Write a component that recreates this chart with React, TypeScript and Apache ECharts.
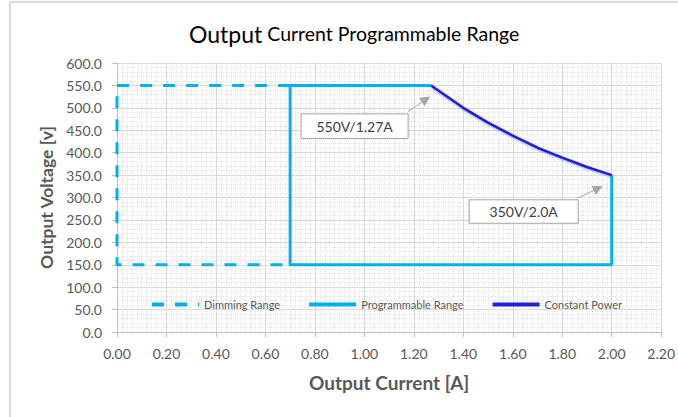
import React, { useEffect, useRef } from "react";
import * as echarts from "echarts";

// ---- data ----
const dimmingCurrent = [0.7, 0, 0, 0.7];
const dimmingVoltage = [550, 550, 150, 150];

const programmableCurrent = [1.27, 0.7, 0.7, 2.0, 2.0];
const programmableVoltage = [550, 550, 150, 150, 350];

const constantPowerCurrent = [1.27, 1.4, 1.5, 1.6, 1.7, 1.8, 1.9, 2.0];
const constantPowerVoltage = [550, 500, 467, 438, 411, 389, 368, 350];

const seriesNames = ["Dimming Range", "Programmable Range", "Constant Power"];

const annotationTexts = ["550V/1.27A", "350V/2.0A"];
const annotationCurrent = [1.27, 2.0];
const annotationVoltage = [550, 350];

const FONT = "Lato, 'Open Sans', sans-serif";
const CYAN = "#00b0f0";
const BLUE = "#1f1fdc";

const zip = (a: number[], b: number[]) => a.map((v, i) => [v, b[i]]);

export default function App() {
  const ref = useRef<HTMLDivElement>(null);

  useEffect(() => {
    if (!ref.current) return;
    const chart = echarts.init(ref.current, undefined, { renderer: "svg" });

    const option: any = {
      animation: false,
      backgroundColor: "#ffffff",
      title: {
        left: 184,
        top: 17,
        text: "{a|Output} {b|Current Programmable Range}",
        textStyle: {
          fontWeight: "normal",
          rich: {
            a: { fontFamily: FONT, fontSize: 23, fontWeight: "normal", color: "#000000" },
            b: { fontFamily: FONT, fontSize: 19.5, fontWeight: "normal", color: "#000000" },
          },
        },
      },
      grid: { left: 117, right: 14, top: 63, bottom: 85, containLabel: false },
      legend: {
        left: 150,
        top: 299,
        itemWidth: 47,
        itemHeight: 10,
        itemGap: 27,
        padding: 0,
        data: seriesNames,
        itemStyle: { opacity: 0 },
        lineStyle: { width: 4 },
        textStyle: { fontFamily: FONT, fontSize: 11, color: "#595959" },
      },
      xAxis: {
        type: "value",
        min: 0,
        max: 2.2,
        interval: 0.2,
        name: "Output Current [A]",
        nameLocation: "middle",
        nameGap: 41,
        nameTextStyle: { fontFamily: FONT, fontSize: 19, fontWeight: "bold", color: "#595959" },
        axisLine: { show: true, lineStyle: { color: "#bfbfbf" } },
        axisTick: { show: true, inside: false, length: 5, lineStyle: { color: "#bfbfbf" } },
        axisLabel: {
          margin: 14,
          fontFamily: FONT,
          fontSize: 14,
          color: "#595959",
          formatter: (v: number) => v.toFixed(2),
        },
        splitLine: { show: true, lineStyle: { color: "#d9d9d9", width: 1 } },
        minorTick: { show: false, splitNumber: 10 },
        minorSplitLine: { show: true, lineStyle: { color: "#e3e3e3", width: 1, type: [1, 1] } },
      },
      yAxis: {
        type: "value",
        min: 0,
        max: 600,
        interval: 50,
        name: "Output Voltage [v]",
        nameLocation: "middle",
        nameGap: 61,
        nameTextStyle: { fontFamily: FONT, fontSize: 17.5, fontWeight: "bold", color: "#595959" },
        axisLine: { show: true, lineStyle: { color: "#bfbfbf" } },
        axisTick: { show: true, inside: false, length: 5, lineStyle: { color: "#bfbfbf" } },
        axisLabel: {
          margin: 15,
          fontFamily: FONT,
          fontSize: 14,
          color: "#595959",
          formatter: (v: number) => v.toFixed(1),
        },
        splitLine: { show: true, lineStyle: { color: "#d9d9d9", width: 1 } },
        minorTick: { show: false, splitNumber: 5 },
        minorSplitLine: { show: true, lineStyle: { color: "#e3e3e3", width: 1, type: [1, 1] } },
      },
      series: [
        {
          name: seriesNames[0],
          type: "line",
          data: zip(dimmingCurrent, dimmingVoltage),
          symbol: "none",
          clip: false,
          itemStyle: { color: CYAN },
          lineStyle: { color: CYAN, width: 3, type: [12, 11] },
        },
        {
          name: seriesNames[1],
          type: "line",
          data: zip(programmableCurrent, programmableVoltage),
          symbol: "none",
          clip: false,
          itemStyle: { color: CYAN },
          lineStyle: { color: CYAN, width: 3 },
        },
        {
          name: seriesNames[2],
          type: "line",
          data: zip(constantPowerCurrent, constantPowerVoltage),
          symbol: "none",
          clip: false,
          z: 3,
          itemStyle: { color: BLUE },
          lineStyle: {
            color: BLUE,
            width: 2.5,
            shadowColor: "rgba(90,90,230,0.6)",
            shadowBlur: 2,
            shadowOffsetY: 1,
          },
        },
      ],
    };
    chart.setOption(option);

    // annotation callouts positioned relative to their data points
    const offsets = [
      { tip: [-1, 11], start: [-23, 26], box: [-130, 28.5, 107, 24.5] },
      { tip: [-9, 11], start: [-34, 23], box: [-142.5, 24.7, 109, 23.5] },
    ];
    const gray = "#a6a6a6";
    const elements: any[] = [
      {
        type: "rect",
        silent: true,
        shape: { x: 10, y: 2, width: 700, height: 440 },
        style: { fill: "none", stroke: "#d9d9d9", lineWidth: 2 },
        z: 100,
      },
    ];
    annotationTexts.forEach((txt, i) => {
      const p = chart.convertToPixel({ gridIndex: 0 }, [annotationCurrent[i], annotationVoltage[i]]) as number[];
      const o = offsets[i];
      const tip = [p[0] + o.tip[0], p[1] + o.tip[1]];
      const st = [p[0] + o.start[0], p[1] + o.start[1]];
      const dx = tip[0] - st[0];
      const dy = tip[1] - st[1];
      const len = Math.hypot(dx, dy);
      const ux = dx / len;
      const uy = dy / len;
      const hl = 10;
      const hw = 5;
      const base = [tip[0] - ux * hl, tip[1] - uy * hl];
      elements.push({
        type: "line",
        silent: true,
        shape: { x1: st[0], y1: st[1], x2: base[0], y2: base[1] },
        style: { stroke: gray, lineWidth: 1 },
        z: 50,
      });
      elements.push({
        type: "polygon",
        silent: true,
        shape: {
          points: [
            tip,
            [base[0] - uy * hw, base[1] + ux * hw],
            [base[0] + uy * hw, base[1] - ux * hw],
          ],
        },
        style: { fill: gray },
        z: 50,
      });
      const [bx, by, bw, bh] = o.box;
      elements.push({
        type: "rect",
        silent: true,
        shape: { x: p[0] + bx, y: p[1] + by, width: bw, height: bh },
        style: { fill: "#ffffff", stroke: gray, lineWidth: 1 },
        z: 50,
      });
      elements.push({
        type: "text",
        silent: true,
        x: p[0] + bx + bw / 2,
        y: p[1] + by + bh / 2,
        style: {
          text: txt,
          fontFamily: FONT,
          fontSize: 14,
          fill: "#404040",
          align: "center",
          verticalAlign: "middle",
        },
        z: 51,
      });
    });
    chart.setOption({ graphic: { elements } });

    return () => chart.dispose();
  }, []);

  return (
    <div
      ref={ref}
      style={{ position: "fixed", left: 0, top: 0, width: 678, height: 417 }}
    />
  );
}
